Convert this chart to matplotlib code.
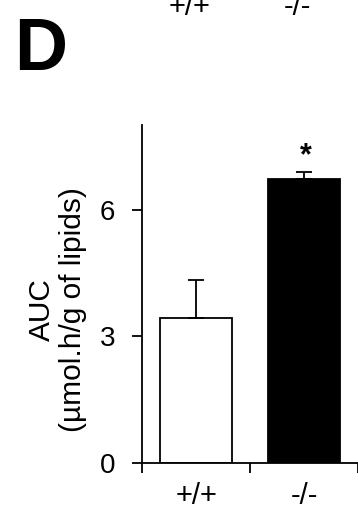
"""AUC bar panel (D): +/+ vs -/- genotypes."""

import matplotlib

matplotlib.use("Agg")

import matplotlib.pyplot as plt

plt.rcParams["font.family"] = ["Liberation Sans", "DejaVu Sans"]

genotypes = ["+/+", "-/-"]
auc_mean = [3.43, 6.72]
auc_sem = [0.90, 0.17]
bar_colors = ["white", "black"]
significance = ["", "*"]
y_ticks = [0, 3, 6]

fig = plt.figure(figsize=(3.58, 5.13), dpi=100)
ax = fig.add_axes([0.397, 0.0975, 0.603, 0.6585])

positions = [0.5, 1.5]
ax.bar(positions, auc_mean, width=0.67, color=bar_colors, edgecolor="black",
       linewidth=1.3, zorder=2)
ax.errorbar(positions, auc_mean, yerr=[[0] * len(auc_sem), auc_sem], fmt="none",
            ecolor="black", elinewidth=1.3, capsize=5.5, capthick=1.3, zorder=3)
for x, y, err, mark in zip(positions, auc_mean, auc_sem, significance):
    if mark:
        ax.text(x + 0.02, y + err + 0.38, mark, ha="center", va="center",
                fontsize=22, fontweight="bold")

ax.set_xlim(0, 2)
ax.set_ylim(0, 8)
ax.set_yticks(y_ticks)
ax.set_yticklabels([str(t) for t in y_ticks])
ax.set_xticks([0, 1, 2])
ax.set_xticklabels([])
ax.set_xticks(positions, minor=True)
ax.set_xticklabels(genotypes, minor=True)

for side in ("top", "right"):
    ax.spines[side].set_visible(False)
for side in ("left", "bottom"):
    ax.spines[side].set_linewidth(1.3)

ax.tick_params(axis="y", direction="out", length=7.2, width=1.3,
               labelsize=20, pad=12)
ax.tick_params(axis="x", which="major", direction="out", length=7.2, width=1.3)
ax.tick_params(axis="x", which="minor", length=0, labelsize=21, pad=14)

fig.text(0.16, 0.396, "AUC\n(µmol.h/g of lipids)", rotation=90, fontsize=21.5,
         ha="center", va="center", multialignment="center", linespacing=1.15)

fig.text(0.04, 0.835, "D", fontsize=53, fontweight="bold", ha="left",
         va="bottom")
# remnants of the panel above, clipped at the top edge as in the source
fig.text(0.53, 0.959, "+/+", fontsize=21, ha="center", va="bottom")
fig.text(0.83, 0.959, "-/-", fontsize=21, ha="center", va="bottom")

fig.savefig("out.png", dpi=100, facecolor="white")
